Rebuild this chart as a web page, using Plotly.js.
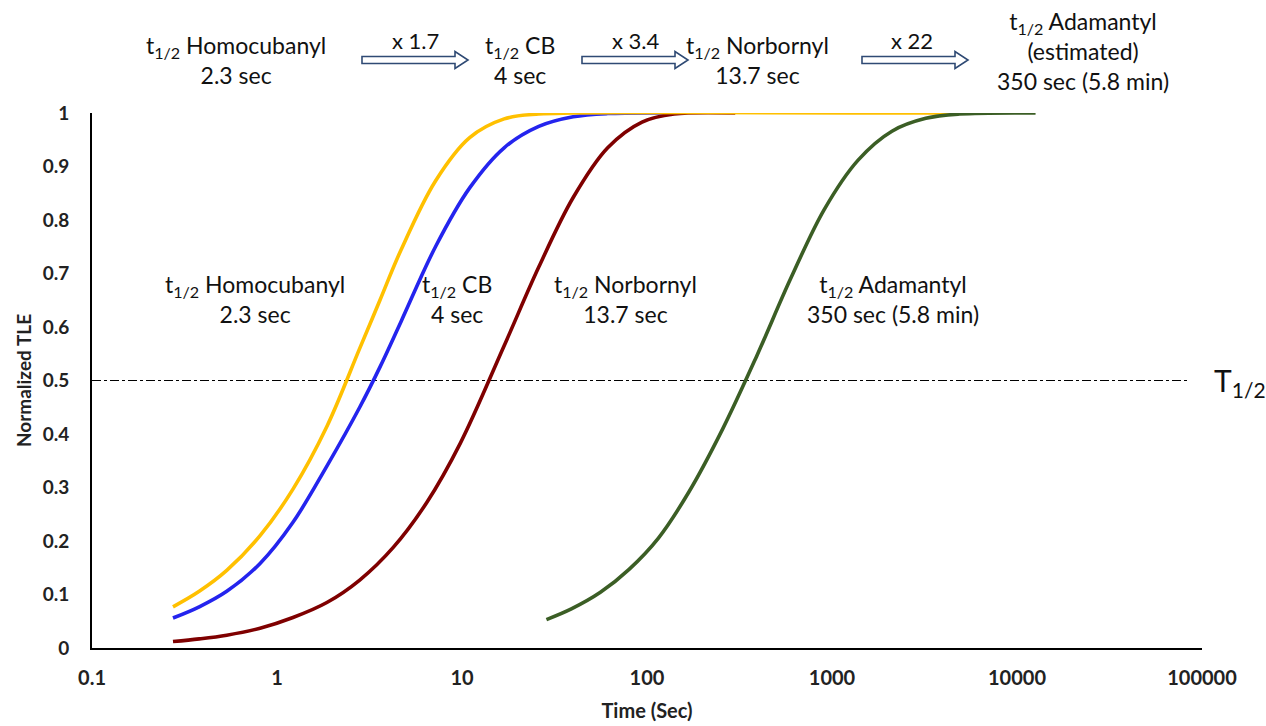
<!DOCTYPE html>
<html>
<head>
<meta charset="utf-8">
<script src="https://cdn.plot.ly/plotly-3.0.1.min.js"></script>
<style>html,body{margin:0;padding:0;background:#fff;}#chart{width:1266px;height:726px;}</style>
</head>
<body>
<div id="chart"></div>
<script>
// ---- data ----
const homoT = [0.274, 0.38, 0.535, 0.81, 1.22, 1.86, 2.8, 3.6, 4.68, 7.19, 11, 16.9, 26, 40, 5000];
const homoY = [0.077, 0.106, 0.145, 0.21, 0.297, 0.414, 0.56, 0.65, 0.744, 0.873, 0.954, 0.989, 0.998, 1, 1];

const cbT = [0.274, 0.38, 0.535, 0.81, 1.22, 1.86, 2.8, 3.6, 4.68, 7.19, 11, 16.9, 26, 39.9, 61.3, 150];
const cbY = [0.056, 0.077, 0.106, 0.158, 0.235, 0.34, 0.45, 0.525, 0.61, 0.75, 0.86, 0.935, 0.975, 0.993, 0.999, 1];

const norT = [0.274, 0.38, 0.535, 0.81, 1.22, 1.86, 2.8, 4.25, 6.45, 9.8, 16.9, 26, 39.9, 61.3, 94, 140, 300];
const norY = [0.012, 0.017, 0.024, 0.037, 0.057, 0.085, 0.127, 0.188, 0.272, 0.383, 0.565, 0.712, 0.842, 0.935, 0.983, 0.998, 1];

const adaT = [28.6, 39, 56, 80, 115, 168.7, 257, 391, 597, 909, 1384, 2109, 3214, 4890, 12600];
const adaY = [0.053, 0.073, 0.104, 0.147, 0.205, 0.292, 0.41, 0.545, 0.69, 0.82, 0.912, 0.966, 0.99, 0.998, 1];

const xTickVals = [0.1, 1, 10, 100, 1000, 10000, 100000];
const xTickText = ['0.1', '1', '10', '100', '1000', '10000', '100000'];
const yTickVals = [0, 0.1, 0.2, 0.3, 0.4, 0.5, 0.6, 0.7, 0.8, 0.9, 1];
const yTickText = ['0', '0.1', '0.2', '0.3', '0.4', '0.5', '0.6', '0.7', '0.8', '0.9', '1'];
const halfLevel = 0.5;

// ---- layout helpers (pixel -> paper) ----
const L = 92, R = 64, T = 113, B = 78, W = 1266, H = 726;
const PW = W - L - R, PH = H - T - B;
const px = x => (x - L) / PW;
const py = y => (H - B - y) / PH;

const FONT = 'Lato, "Open Sans", sans-serif';

function line(x, y, color) {
  return {x: x, y: y, type: 'scatter', mode: 'lines',
    line: {color: color, width: 3.6, shape: 'spline', smoothing: 1},
    hoverinfo: 'skip', showlegend: false};
}
const traces = [
  line(cbT, cbY, '#2424EE'),
  line(norT, norY, '#7F0000'),
  line(homoT, homoY, '#FFC000'),
  line(adaT, adaY, '#3B5E25')
];

function arrowPath(x0, x1, yc) {
  const bh = 3.5, hh = 8.5, hl = 13;
  const xs = x1 - hl;
  const pts = [[x0, yc - bh], [xs, yc - bh], [xs, yc - hh], [x1, yc], [xs, yc + hh], [xs, yc + bh], [x0, yc + bh]];
  return 'M ' + pts.map(p => px(p[0]).toFixed(5) + ',' + py(p[1]).toFixed(5)).join(' L ') + ' Z';
}
const shapes = [
  {type: 'line', xref: 'x', yref: 'y', x0: 0.1, x1: 86000, y0: halfLevel, y1: halfLevel,
   line: {color: '#000', width: 1, dash: 'dashdot'}, layer: 'below'}
];
[[362, 468], [582, 688], [862, 968]].forEach(a => {
  shapes.push({type: 'path', xref: 'paper', yref: 'paper', path: arrowPath(a[0], a[1], 60),
    fillcolor: '#fff', line: {color: '#2F4A74', width: 1.6}});
});

function ann(text, x, y, size) {
  return {text: text, xref: 'paper', yref: 'paper', x: px(x), y: py(y),
    xanchor: 'center', yanchor: 'middle', showarrow: false, align: 'center',
    font: {family: FONT, size: size || 23, color: '#111'}};
}
const S = '<sub>1/2</sub>';
const annotations = [
  ann('t' + S + ' Homocubanyl<br>2.3 sec', 236, 60),
  ann('x 1.7', 415, 41, 22),
  ann('t' + S + ' CB<br>4 sec', 520, 60),
  ann('x 3.4', 636, 41, 22),
  ann('t' + S + ' Norbornyl<br>13.7 sec', 757, 60),
  ann('x 22', 912, 41, 22),
  ann('t' + S + ' Adamantyl<br>(estimated)<br>350 sec (5.8 min)', 1083, 51),
  ann('t' + S + ' Homocubanyl<br>2.3 sec', 255, 299),
  ann('t' + S + ' CB<br>4 sec', 457, 299),
  ann('t' + S + ' Norbornyl<br>13.7 sec', 625, 299),
  ann('t' + S + ' Adamantyl<br>350 sec (5.8 min)', 893, 299),
  ann('T' + S, 1240, 382, 30)
];

const layout = {
  width: W, height: H,
  margin: {l: L, r: R, t: T, b: B, pad: 0},
  paper_bgcolor: '#fff', plot_bgcolor: '#fff',
  showlegend: false,
  font: {family: FONT, color: '#111'},
  xaxis: {type: 'log', range: [-1, 5], tickvals: xTickVals, ticktext: xTickText,
    showgrid: false, zeroline: false, showline: true, linecolor: '#000', linewidth: 2,
    ticks: '', ticklabelstandoff: 11,
    tickfont: {family: FONT, size: 20, color: '#222', weight: 'bold'},
    title: {text: '<b>Time (Sec)</b>', font: {family: FONT, size: 20, color: '#222'}, standoff: 16}},
  yaxis: {range: [0, 1], tickvals: yTickVals, ticktext: yTickText,
    showgrid: false, zeroline: false, showline: true, linecolor: '#000', linewidth: 2,
    ticks: '', ticklabelstandoff: 17,
    tickfont: {family: FONT, size: 19, color: '#222', weight: 'bold'},
    title: {text: '<b>Normalized TLE</b>', font: {family: FONT, size: 19, color: '#222'}, standoff: 6}},
  shapes: shapes,
  annotations: annotations
};

Plotly.newPlot('chart', traces, layout, {staticPlot: true, displayModeBar: false});
</script>
</body>
</html>
